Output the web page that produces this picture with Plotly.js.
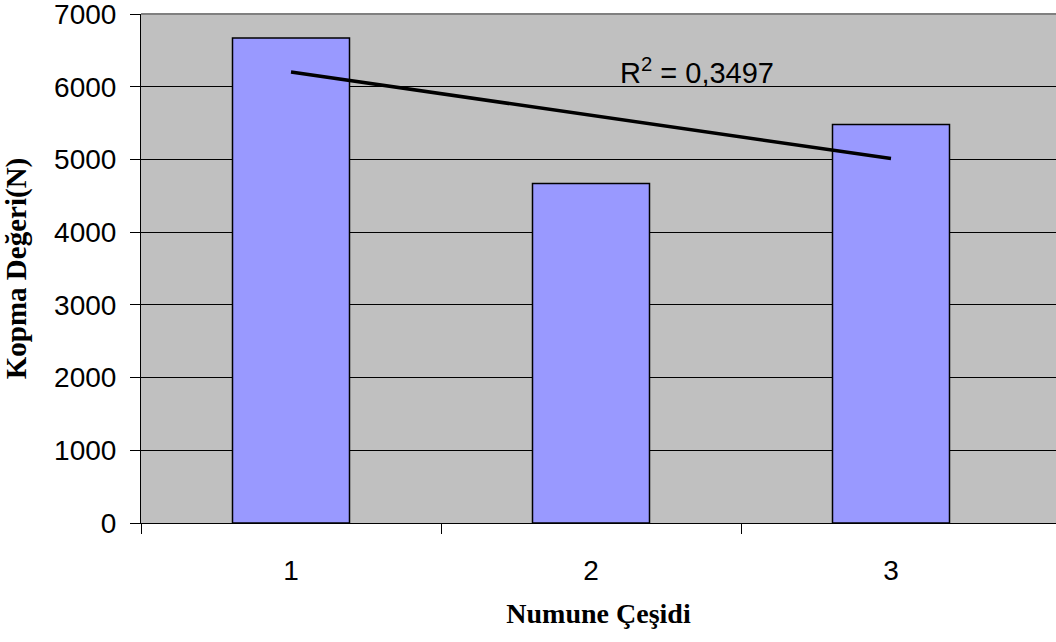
<!DOCTYPE html>
<html>
<head>
<meta charset="utf-8">
<script src="https://cdn.plot.ly/plotly-3.0.1.min.js"></script>
<style>html,body{margin:0;padding:0;background:#fff;}#chart{width:1056px;height:642px;}</style>
</head>
<body>
<div id="chart"></div>
<script>
const categories = [1, 2, 3];
const tickLabels = ["1", "2", "3"];
const kopmaValues = [6670, 4670, 5480];
const categoryBorders = [0.5, 1.5, 2.5];
const r2Label = "R<sup>2</sup> = 0,3497";
const xTitle = "Numune Çeşidi";
const yTitle = "Kopma Değeri(N)";

// linear least-squares trendline from the bar values
const n = categories.length;
const mx = categories.reduce((a, b) => a + b, 0) / n;
const my = kopmaValues.reduce((a, b) => a + b, 0) / n;
let sxy = 0, sxx = 0;
for (let i = 0; i < n; i++) {
  sxy += (categories[i] - mx) * (kopmaValues[i] - my);
  sxx += (categories[i] - mx) ** 2;
}
const slope = sxy / sxx;
const intercept = my - slope * mx;
const trendX = [categories[0], categories[n - 1]];
const trendY = trendX.map(x => intercept + slope * x);

const xRange = [0.5, 3.55];

const traces = [
  {
    type: "bar",
    x: categories,
    y: kopmaValues,
    width: 0.39,
    marker: { color: "#9999ff", line: { color: "#000000", width: 1.5 } },
    showlegend: false
  },
  {
    type: "scatter",
    mode: "lines",
    x: trendX,
    y: trendY,
    line: { color: "#000000", width: 3.5 },
    showlegend: false
  },
  { type: "scatter", mode: "none", x: [xRange[0]], y: [0], xaxis: "x2", yaxis: "y", hoverinfo: "skip", showlegend: false }
];

const layout = {
  width: 1056,
  height: 642,
  margin: { l: 141, r: 0, t: 14, b: 119 },
  paper_bgcolor: "#ffffff",
  plot_bgcolor: "#c0c0c0",
  font: { family: "Liberation Sans, Arial, sans-serif", size: 28, color: "#000" },
  showlegend: false,
  xaxis: {
    range: xRange,
    tickvals: categories,
    ticktext: tickLabels,
    ticks: "",
    ticklabelstandoff: 22,
    showgrid: false,
    zeroline: false,
    showline: true,
    linecolor: "#000",
    linewidth: 1,
    tickfont: { size: 28 },
    title: { text: "<b>" + xTitle + "</b>", font: { family: "Liberation Serif, Times New Roman, serif", size: 28 }, standoff: 18 }
  },
  xaxis2: {
    overlaying: "x",
    matches: "x",
    range: xRange,
    side: "bottom",
    tickvals: categoryBorders,
    showticklabels: false,
    ticks: "outside",
    ticklen: 10,
    tickcolor: "#000",
    tickwidth: 1,
    showgrid: false,
    zeroline: false,
    showline: false
  },
  yaxis: {
    range: [0, 7000],
    dtick: 1000,
    ticks: "outside",
    ticklen: 10,
    tickcolor: "#000",
    ticklabelstandoff: 8,
    ticklabeloverflow: "allow",
    showgrid: true,
    gridcolor: "#000",
    gridwidth: 1,
    zeroline: false,
    showline: true,
    linecolor: "#000",
    linewidth: 1,
    tickfont: { size: 28 },
    title: { text: "<b>" + yTitle + "</b>", font: { family: "Liberation Serif, Times New Roman, serif", size: 29 }, standoff: 18 }
  },
  shapes: [
    { type: "line", xref: "paper", yref: "paper", x0: 0, x1: 1, y0: 1, y1: 1, line: { color: "#808080", width: 2 } }
  ],
  annotations: [
    {
      text: r2Label,
      x: 2.09, y: 5940,
      xref: "x", yref: "y",
      xanchor: "left", yanchor: "bottom",
      showarrow: false,
      font: { size: 29, family: "Liberation Sans, Arial, sans-serif" }
    }
  ]
};

Plotly.newPlot("chart", traces, layout, { displayModeBar: false, staticPlot: true });
</script>
</body>
</html>
